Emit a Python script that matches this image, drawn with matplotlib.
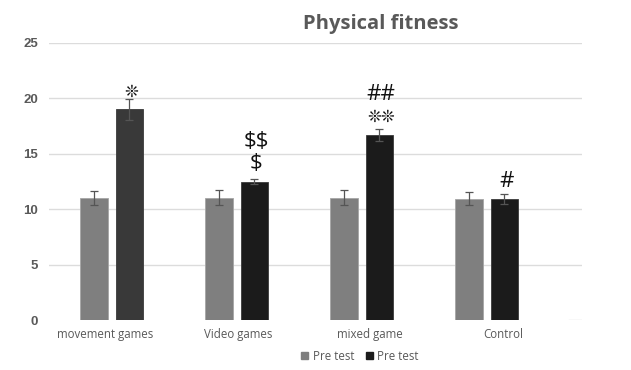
import numpy as np
import matplotlib.pyplot as plt
from matplotlib.patches import Patch

# Physical fitness scores, pre and post test per group
groups = ["movement games", "Video games", "mixed game", "Control"]
pre_mean = [11.0, 11.05, 11.05, 10.95]
pre_err = [0.65, 0.65, 0.65, 0.6]
post_mean = [19.0, 12.5, 16.7, 10.9]
post_err = [0.95, 0.2, 0.55, 0.45]
# significance marks, listed from the bar upwards
marks = [["❊"], ["$", "$$"], ["❊❊", "##"], ["#"]]
legend_labels = ["Pre test", "Pre test"]

text_gray = "#595959"
pre_color = "#7f7f7f"
post_colors = ["#393939", "#1b1b1b", "#1b1b1b", "#1b1b1b"]

fig = plt.figure(figsize=(6.31, 3.70), dpi=100)
ax = fig.add_axes([0.0777, 0.1351, 0.8447, 0.7487])

x = np.arange(len(groups))
w = 0.22
off = 0.142

ax.bar(x - off, pre_mean, w, color=pre_color, edgecolor="#a6a6a6", linewidth=0.6, zorder=3)
ax.bar(x + off, post_mean, w, color=post_colors, edgecolor="#3a3a3a", linewidth=0.6, zorder=3)
ax.errorbar(x - off, pre_mean, yerr=pre_err, fmt="none", ecolor="#555555",
            elinewidth=0.9, capsize=3, capthick=0.9, zorder=4)
ax.errorbar(x + off, post_mean, yerr=post_err, fmt="none", ecolor="#555555",
            elinewidth=0.9, capsize=3, capthick=0.9, zorder=4)

# marks sit just above the error bar cap; offsets in points
first_gap = [5, 11.5, 9, 9.5]
line_gap = 16
for xi, m, e, labs, g in zip(x, post_mean, post_err, marks, first_gap):
    for k, lab in enumerate(labs):
        star = "❊" in lab
        ax.annotate(lab, (xi + off, m + e), xytext=(1.5, g + k * line_gap),
                    textcoords="offset points", ha="center", va="center",
                    fontsize=12 if star else 16, color="#111111",
                    family=["DejaVu Sans"] if star else ["Open Sans"],
                    parse_math=False, annotation_clip=False, zorder=5)

ax.set_ylim(0, 25)
ax.set_xlim(-0.5, 3.764)
ax.set_yticks(np.arange(0, 26, 5))
# category labels are spread over the full plot width, a little wider than the bar groups
ax.set_xticks(x * 1.06 - 0.05)
ax.tick_params(length=0)
ax.tick_params(axis="x", pad=6)
ax.tick_params(axis="y", pad=8)
ax.set_xticklabels(groups, fontsize=8.3, color=text_gray, family="Open Sans")
ax.set_yticklabels([str(v) for v in range(0, 26, 5)], fontsize=9.5, fontweight="bold",
                   color=text_gray, family="Liberation Sans")

for y in range(5, 26, 5):
    ax.axhline(y, color="#dcdcdc", lw=1, zorder=1)
ax.axhline(0, xmin=0.976, xmax=1.0, color="#dcdcdc", lw=1, zorder=1)
for s in ax.spines.values():
    s.set_visible(False)

fig.text(381 / 631, 1 - 24 / 370, "Physical fitness", ha="center", va="center",
         fontsize=14.5, fontweight="bold", color=text_gray, family="Open Sans")

handles = [Patch(color=pre_color), Patch(color="#1b1b1b")]
fig.legend(handles, legend_labels, loc="center", bbox_to_anchor=(360 / 631, 1 - 356 / 370),
           ncol=2, frameon=False, handlelength=0.6, handleheight=0.6, handletextpad=0.4,
           columnspacing=1.0, prop={"family": "Open Sans", "size": 8.3},
           labelcolor=text_gray)

fig.savefig("out.png", dpi=100, facecolor="white")
